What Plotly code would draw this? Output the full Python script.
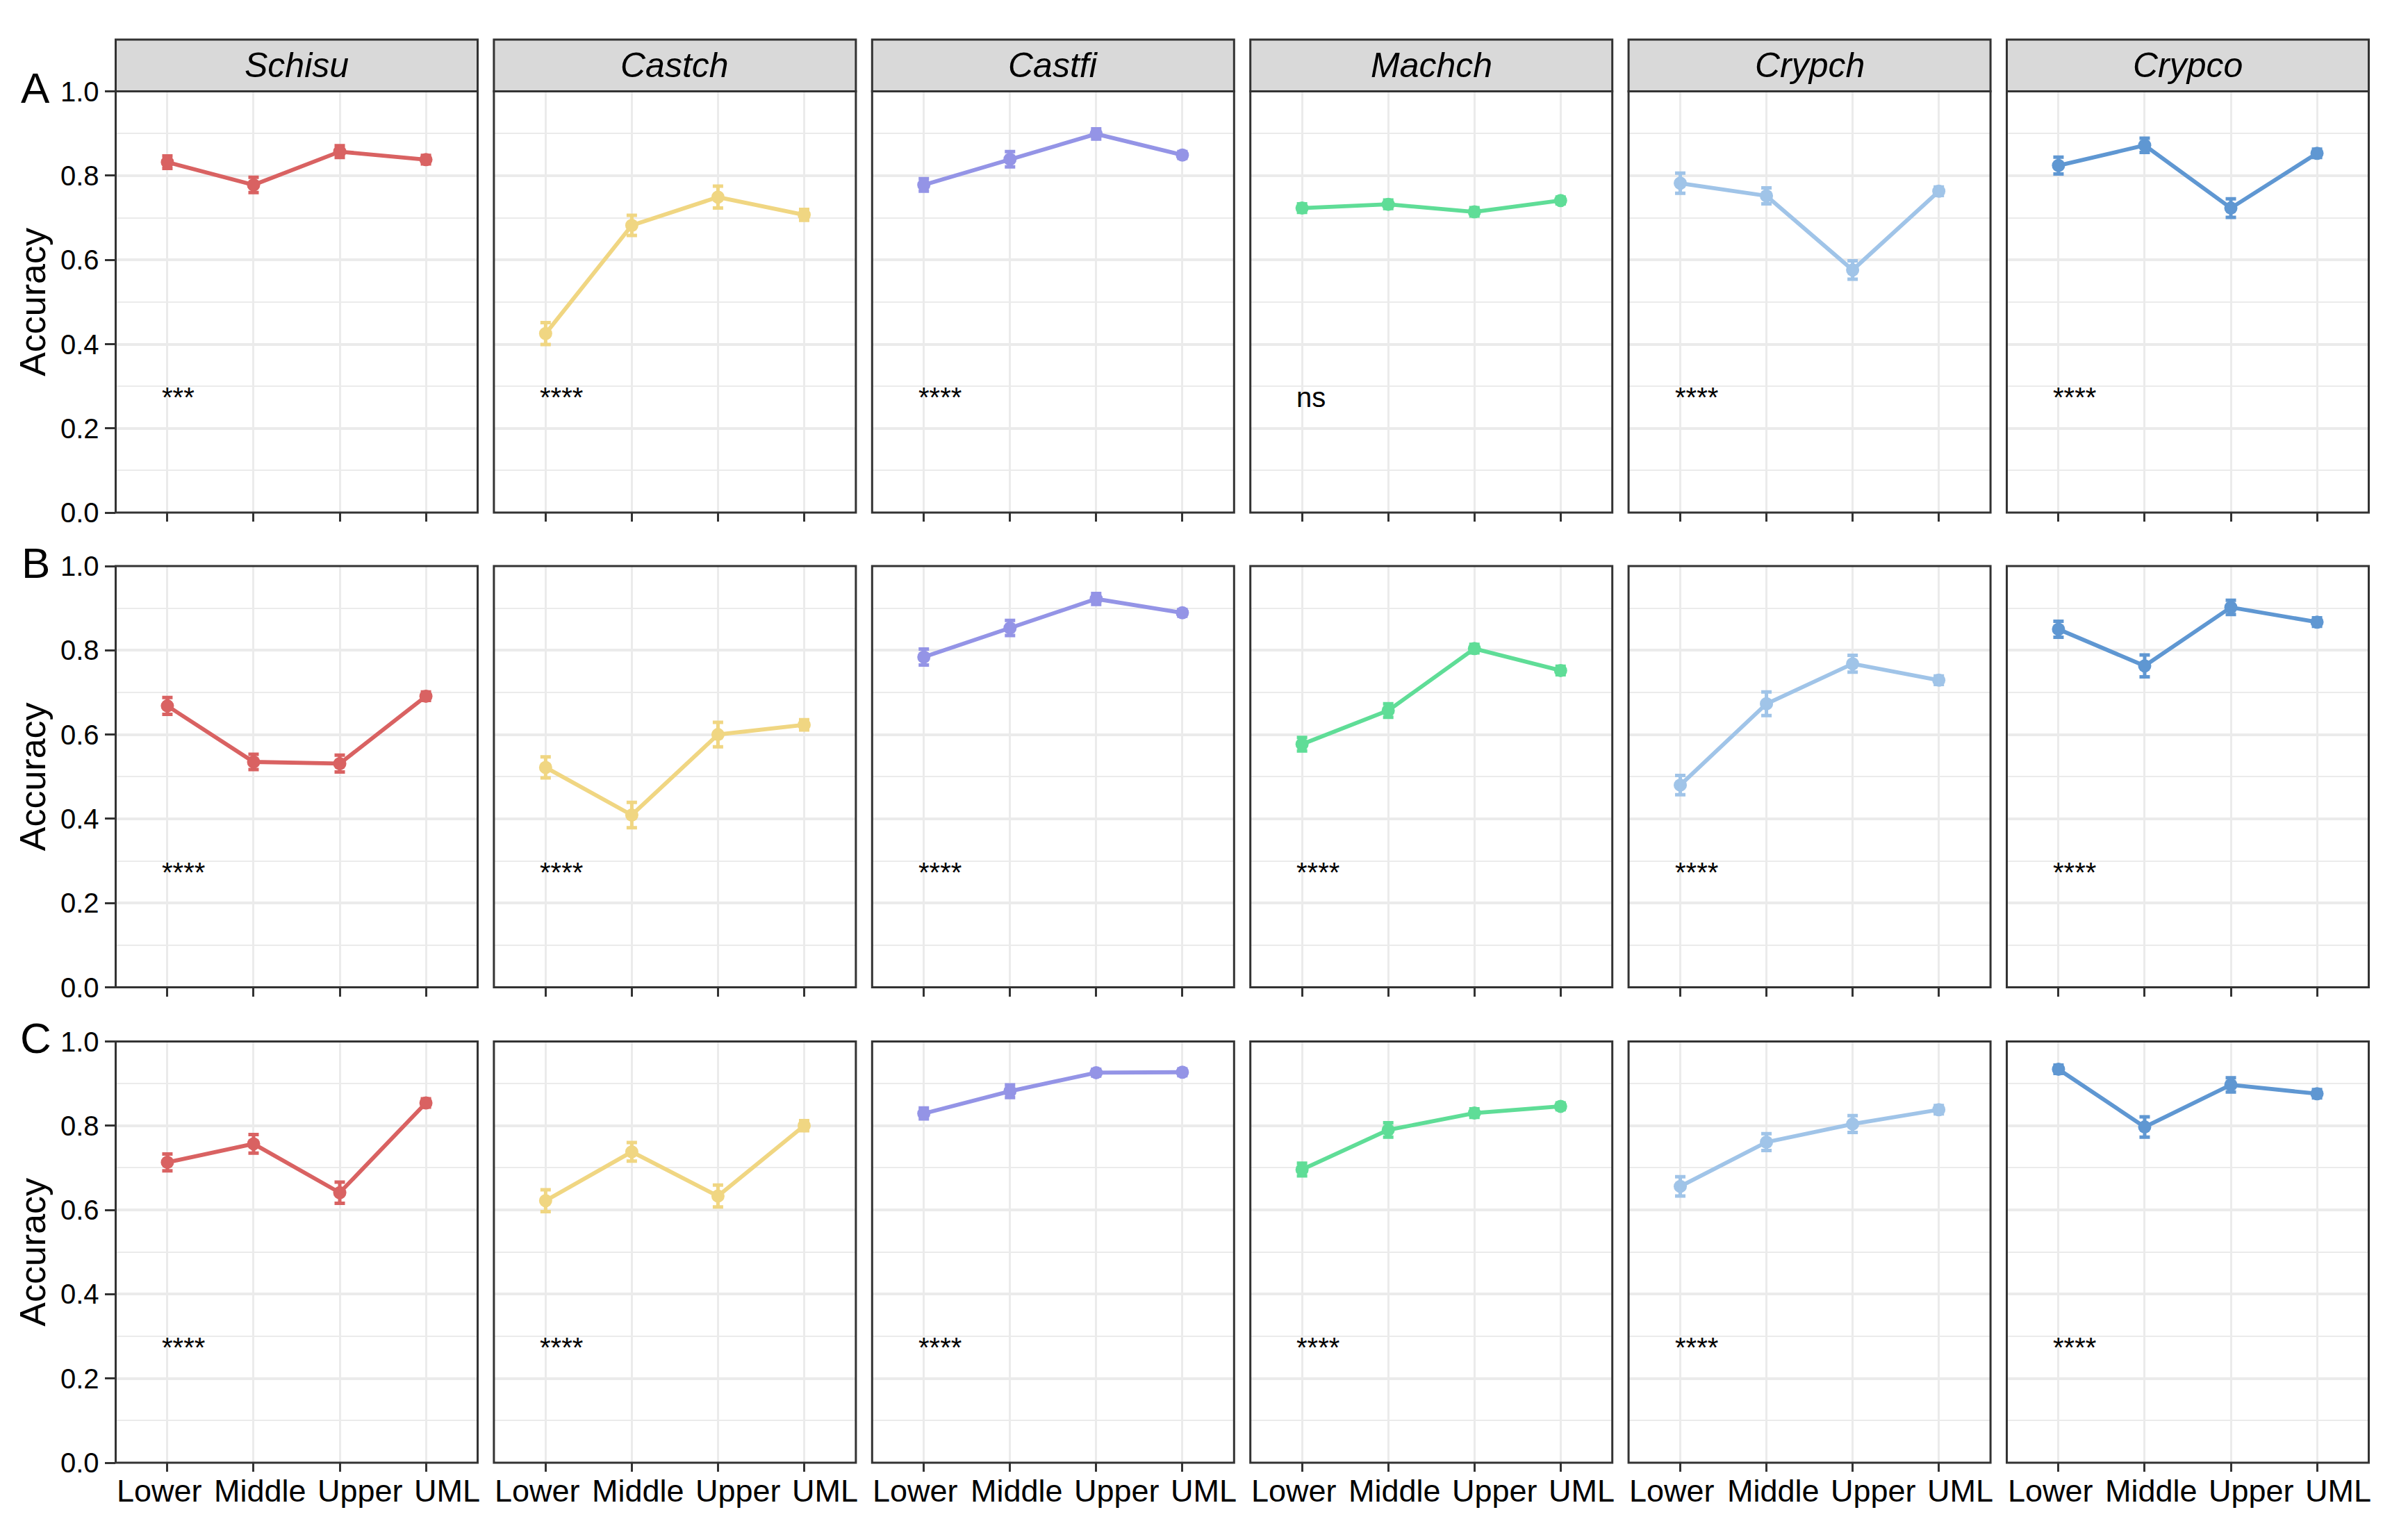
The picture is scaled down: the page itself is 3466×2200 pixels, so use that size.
import plotly.graph_objects as go
from plotly.subplots import make_subplots

categories = ["Lower", "Middle", "Upper", "UML"]
species = ["Schisu", "Castch", "Castfi", "Machch", "Crypch", "Crypco"]
panel_letters = ["A", "B", "C"]
colors = ["#D96262", "#F0D682", "#9494E6", "#5FDD97", "#A0C4E8", "#5F97D2"]
y_ticks = [0.0, 0.2, 0.4, 0.6, 0.8, 1.0]
y_ticktext = ["0.0", "0.2", "0.4", "0.6", "0.8", "1.0"]

acc_A = [
    [0.832, 0.778, 0.857, 0.838],
    [0.425, 0.682, 0.749, 0.707],
    [0.778, 0.839, 0.899, 0.849],
    [0.723, 0.732, 0.714, 0.741],
    [0.782, 0.752, 0.576, 0.763],
    [0.824, 0.872, 0.723, 0.853],
]
se_A = [
    [0.015, 0.018, 0.014, 0.010],
    [0.026, 0.024, 0.026, 0.013],
    [0.015, 0.018, 0.012, 0.008],
    [0.010, 0.010, 0.010, 0.008],
    [0.024, 0.019, 0.022, 0.010],
    [0.020, 0.017, 0.022, 0.010],
]
acc_B = [
    [0.668, 0.535, 0.531, 0.691],
    [0.522, 0.409, 0.600, 0.623],
    [0.784, 0.853, 0.922, 0.889],
    [0.577, 0.657, 0.804, 0.752],
    [0.480, 0.673, 0.768, 0.729],
    [0.850, 0.763, 0.902, 0.867],
]
se_B = [
    [0.020, 0.018, 0.020, 0.010],
    [0.025, 0.030, 0.029, 0.012],
    [0.019, 0.018, 0.013, 0.008],
    [0.016, 0.016, 0.010, 0.010],
    [0.023, 0.028, 0.020, 0.010],
    [0.019, 0.026, 0.017, 0.010],
]
acc_C = [
    [0.713, 0.757, 0.641, 0.854],
    [0.622, 0.738, 0.633, 0.800],
    [0.829, 0.882, 0.926, 0.927],
    [0.696, 0.790, 0.830, 0.846],
    [0.656, 0.761, 0.804, 0.838],
    [0.934, 0.797, 0.897, 0.876],
]
se_C = [
    [0.020, 0.022, 0.025, 0.010],
    [0.026, 0.022, 0.026, 0.012],
    [0.013, 0.015, 0.008, 0.008],
    [0.015, 0.017, 0.010, 0.008],
    [0.023, 0.020, 0.020, 0.010],
    [0.010, 0.024, 0.017, 0.010],
]
sig_A = ["***", "****", "****", "ns", "****", "****"]
sig_B = ["****", "****", "****", "****", "****", "****"]
sig_C = ["****", "****", "****", "****", "****", "****"]

rows_acc = [acc_A, acc_B, acc_C]
rows_se = [se_A, se_B, se_C]
rows_sig = [sig_A, sig_B, sig_C]

# ---- layout geometry (pixels) ----
W, H = 3466, 2200
PANEL_W = 521.0
PANEL_H = 606.5
COL_X0 = [166.5 + i * 544.4 for i in range(6)]
ROW_TOP = [131.6, 815.0, 1499.5]
STRIP_TOP = 57.0
XLAB_SHIFT = [-0.095, 0.077, 0.238, 0.245]   # label placement offsets (category units)
FONT = "Liberation Sans, Arial, Helvetica, sans-serif"
BORDER = "#333333"
GRID = "#EBEBEB"

fig = make_subplots(rows=3, cols=6)

for r in range(3):
    for c in range(6):
        col = colors[c]
        fig.add_trace(
            go.Scatter(
                x=categories,
                y=rows_acc[r][c],
                mode="lines+markers",
                line=dict(color=col, width=5.8),
                marker=dict(size=19, color=col),
                error_y=dict(type="data", array=rows_se[r][c], visible=True,
                             color=col, thickness=5, width=7.5),
                showlegend=False,
                hoverinfo="x+y",
            ),
            row=r + 1, col=c + 1,
        )

annotations = []
shapes = []

for r in range(3):
    for c in range(6):
        idx = r * 6 + c + 1
        xname = "xaxis" if idx == 1 else f"xaxis{idx}"
        yname = "yaxis" if idx == 1 else f"yaxis{idx}"
        xref = "x" if idx == 1 else f"x{idx}"
        yref = "y" if idx == 1 else f"y{idx}"
        x0 = COL_X0[c] / W
        x1 = (COL_X0[c] + PANEL_W) / W
        y1 = 1 - ROW_TOP[r] / H
        y0 = 1 - (ROW_TOP[r] + PANEL_H) / H
        fig.layout[xname].update(
            domain=[x0, x1], anchor=yref, automargin=False,
            type="category", categoryorder="array", categoryarray=categories,
            range=[-0.6, 3.6],
            showgrid=True, gridcolor=GRID, gridwidth=3,
            zeroline=False, showline=False,
            ticks="outside", ticklen=12, tickwidth=3, tickcolor=BORDER,
            tickangle=0, showticklabels=False,
        )
        fig.layout[yname].update(
            domain=[y0, y1], anchor=xref, automargin=False,
            range=[0, 1], tickmode="array", tickvals=y_ticks, ticktext=y_ticktext,
            showgrid=True, gridcolor=GRID, gridwidth=3.5,
            minor=dict(tickvals=[0.1, 0.3, 0.5, 0.7, 0.9], showgrid=True,
                       gridcolor=GRID, gridwidth=1.8, ticks=""),
            zeroline=False, showline=False,
            ticks="outside" if c == 0 else "", ticklen=15, tickwidth=3, tickcolor=BORDER,
            showticklabels=(c == 0),
            tickfont=dict(size=40, color="black", family=FONT),
        )
        # panel border
        shapes.append(dict(type="rect", xref=f"{xref} domain", yref=f"{yref} domain",
                           x0=0, x1=1, y0=0, y1=1,
                           line=dict(color=BORDER, width=3), layer="above"))
        # significance label
        annotations.append(dict(x=-0.08, y=0.234, xref=xref, yref=yref,
                                text=rows_sig[r][c], showarrow=False,
                                xanchor="left", yanchor="bottom",
                                font=dict(size=40, color="black", family=FONT)))
        # category labels under the bottom row
        if r == 2:
            for k, cat in enumerate(categories):
                annotations.append(dict(x=k + XLAB_SHIFT[k], y=1 - 2146 / H,
                                        xref=xref, yref="paper", text=cat,
                                        showarrow=False, xanchor="center",
                                        yanchor="middle",
                                        font=dict(size=45, color="black", family=FONT)))

# strips on top row
for c in range(6):
    x0 = COL_X0[c] / W
    x1 = (COL_X0[c] + PANEL_W) / W
    shapes.append(dict(type="rect", xref="paper", yref="paper",
                       x0=x0, x1=x1, y0=1 - ROW_TOP[0] / H, y1=1 - STRIP_TOP / H,
                       fillcolor="#D9D9D9", line=dict(color=BORDER, width=3),
                       layer="above"))
    annotations.append(dict(x=(x0 + x1) / 2, y=1 - (STRIP_TOP + ROW_TOP[0]) / 2 / H,
                            xref="paper", yref="paper", text=f"<i>{species[c]}</i>",
                            showarrow=False, xanchor="center", yanchor="middle",
                            font=dict(size=50, color="black", family=FONT)))

# row letters and y titles
for r in range(3):
    annotations.append(dict(x=51 / W, y=1 - (ROW_TOP[r] - 5) / H,
                            xref="paper", yref="paper", text=panel_letters[r],
                            showarrow=False, xanchor="center", yanchor="middle",
                            font=dict(size=62, color="black", family=FONT)))
    annotations.append(dict(x=47 / W, y=1 - (ROW_TOP[r] + PANEL_H / 2) / H,
                            xref="paper", yref="paper", text="Accuracy",
                            textangle=-90, showarrow=False,
                            xanchor="center", yanchor="middle",
                            font=dict(size=52, color="black", family=FONT)))

fig.update_layout(
    width=W, height=H,
    margin=dict(l=0, r=0, t=0, b=0, pad=0, autoexpand=False),
    paper_bgcolor="white", plot_bgcolor="white",
    font=dict(family=FONT, color="black"),
    shapes=shapes, annotations=annotations,
    showlegend=False,
)

fig.write_html("out.html", config={"displayModeBar": False},
               post_script="document.body.style.margin='0px';")
